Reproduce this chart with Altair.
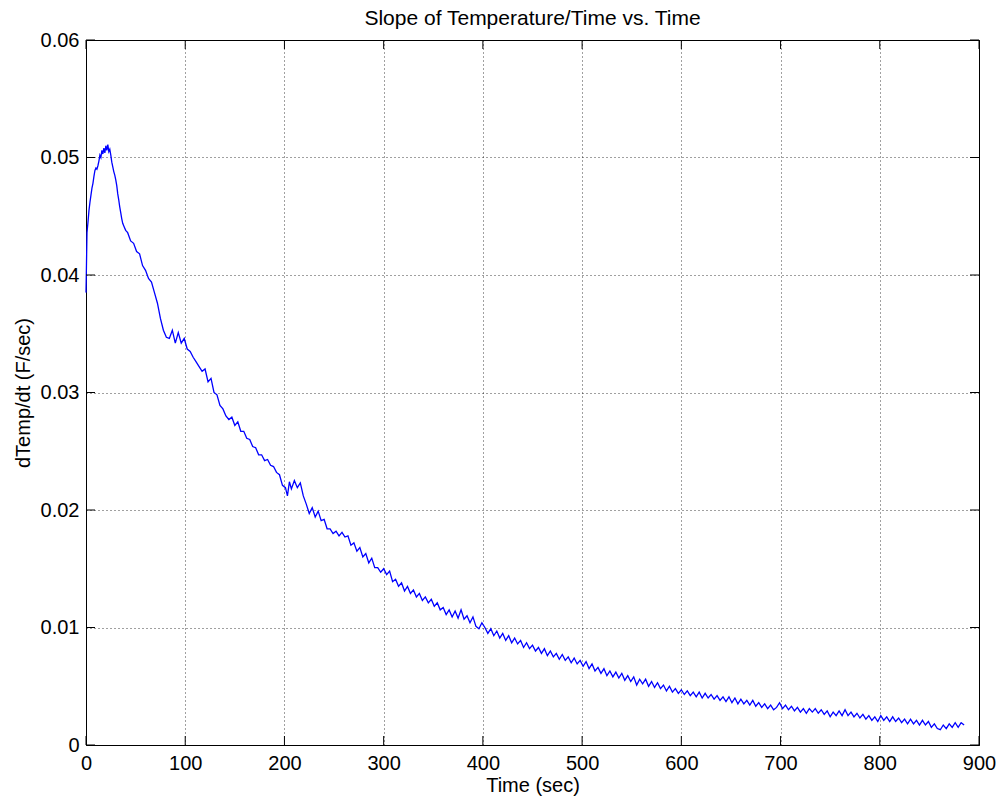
import altair as alt
import pandas as pd

# ---- data (time in sec, slope in F/sec) ----
SEG_RISE = [
    (0, 0.0385), (0.5, 0.0410), (1, 0.0436), (2, 0.0445), (3, 0.0455), (4, 0.0462),
    (5, 0.0468), (6, 0.0474), (7, 0.0478), (8, 0.0484), (9, 0.0489), (10, 0.0491),
    (11, 0.0490), (12, 0.0493), (13, 0.0497), (14, 0.0502), (15, 0.0500), (16, 0.0506),
    (17, 0.0503), (18, 0.0508), (19, 0.0504), (20, 0.0510), (21, 0.0506), (22, 0.0511),
    (23, 0.0505), (24, 0.0507), (25, 0.0502), (26, 0.0496), (27, 0.0492), (28, 0.0488),
    (29, 0.0485), (30, 0.0481), (31, 0.0476), (32, 0.0469), (33, 0.0464), (34, 0.0458),
    (35, 0.0453), (36, 0.0448), (37, 0.0444), (38, 0.0442), (40, 0.0438),
]
SEG_EARLY = [
    (42, 0.0436), (45, 0.0429), (48, 0.0427), (51, 0.0420), (54, 0.0418), (57, 0.0408),
    (60, 0.0404), (63, 0.0397), (66, 0.0394), (69, 0.0385), (72, 0.0376), (75, 0.0363),
    (78, 0.0353), (81, 0.0347), (84, 0.0346), (87, 0.0353), (90, 0.0342), (93, 0.0351),
    (96, 0.0342), (99, 0.0346), (102, 0.0337), (105, 0.0335), (108, 0.0330), (111, 0.0326),
    (114, 0.0322), (117, 0.0318), (120, 0.0320), (123, 0.0309), (126, 0.0312), (129, 0.0300),
    (132, 0.0298), (135, 0.0289), (138, 0.0286), (141, 0.0280), (144, 0.0277), (147, 0.0279),
    (150, 0.0272), (153, 0.0275), (156, 0.0267), (159, 0.0267), (162, 0.0261), (165, 0.0260),
    (168, 0.0254), (171, 0.0253), (174, 0.0247), (177, 0.0247), (180, 0.0242), (183, 0.0243),
    (186, 0.0238), (189, 0.0237), (192, 0.0232), (195, 0.0230), (198, 0.0221),
]
SEG_MID = [
    (201, 0.0219), (203, 0.0212), (205, 0.0224), (207, 0.0218), (210, 0.0225), (213, 0.0219),
    (216, 0.0223), (219, 0.0212), (222, 0.0205), (225, 0.0197), (228, 0.0202), (231, 0.0194),
    (234, 0.0199), (237, 0.0191), (240, 0.0192), (243, 0.0184), (246, 0.0184), (249, 0.0180),
    (252, 0.0182), (255, 0.0178), (258, 0.0181), (261, 0.0177), (264, 0.0178), (267, 0.0170),
    (270, 0.0172), (273, 0.0165), (276, 0.0168), (279, 0.0160), (282, 0.0163), (285, 0.0155),
    (288, 0.0159), (291, 0.0151), (294, 0.0151), (297, 0.0147), (300, 0.0150), (303, 0.0145),
    (306, 0.0148), (309, 0.0139), (312, 0.0141), (315, 0.0135), (318, 0.0138), (321, 0.0131),
    (324, 0.0135), (327, 0.0129), (330, 0.0132), (333, 0.0126), (336, 0.0129), (339, 0.0123),
    (342, 0.0126), (345, 0.0121), (348, 0.0124), (351, 0.0118), (354, 0.0121), (357, 0.0115),
    (360, 0.0117), (363, 0.0111), (366, 0.0115), (369, 0.0109), (372, 0.0114), (375, 0.0108),
    (378, 0.0115), (381, 0.0107), (384, 0.0110), (387, 0.0104), (390, 0.0109), (393, 0.0101),
    (396, 0.0099), (399, 0.0104),
]
SEG_LATE = [
    (402, 0.0100), (405, 0.0095), (408, 0.0099), (411, 0.0093), (414, 0.0097), (417, 0.0091),
    (420, 0.0095), (423, 0.0089), (426, 0.0093), (429, 0.0087), (432, 0.0091), (435, 0.0086),
    (438, 0.0089), (441, 0.0083), (444, 0.0087), (447, 0.0082), (450, 0.0085), (453, 0.0080),
    (456, 0.0083), (459, 0.0078), (462, 0.0082), (465, 0.0076), (468, 0.0080), (471, 0.0075),
    (474, 0.0078), (477, 0.0073), (480, 0.0077), (483, 0.0072), (486, 0.0075), (489, 0.0070),
    (492, 0.0074), (495, 0.0069), (498, 0.0072), (501, 0.0067), (504, 0.0071), (507, 0.0065),
    (510, 0.0069), (513, 0.0063), (516, 0.0066), (519, 0.0061), (522, 0.0065), (525, 0.0059),
    (528, 0.0063), (531, 0.0058), (534, 0.0062), (537, 0.0057), (540, 0.0061), (543, 0.0055),
    (546, 0.0059), (549, 0.0054), (552, 0.0058), (555, 0.0051), (558, 0.0056), (561, 0.0052),
    (564, 0.0056), (567, 0.0050), (570, 0.0054), (573, 0.0049), (576, 0.0053), (579, 0.0048),
    (582, 0.0051), (585, 0.0046), (588, 0.0050), (591, 0.0045), (594, 0.0048), (597, 0.0044),
    (600, 0.0047), (603, 0.0043), (606, 0.0046), (609, 0.0042), (612, 0.0045), (615, 0.0041),
    (618, 0.0045), (621, 0.0040), (624, 0.0044), (627, 0.0040), (630, 0.0043), (633, 0.0039),
    (636, 0.0042), (639, 0.0038), (642, 0.0041), (645, 0.0037), (648, 0.0041), (651, 0.0036),
    (654, 0.0040), (657, 0.0035), (660, 0.0039), (663, 0.0035), (666, 0.0038), (669, 0.0034),
    (672, 0.0038), (675, 0.0033), (678, 0.0036), (681, 0.0032), (684, 0.0035), (687, 0.0031),
    (690, 0.0034), (693, 0.0030), (696, 0.0032),
]
SEG_TAIL = [
    (699, 0.0036), (702, 0.0031), (705, 0.0034), (708, 0.0030), (711, 0.0033), (714, 0.0029),
    (717, 0.0032), (720, 0.0028), (723, 0.0031), (726, 0.0027), (729, 0.0031), (732, 0.0028),
    (735, 0.0031), (738, 0.0027), (741, 0.0030), (744, 0.0026), (747, 0.0029), (750, 0.0024),
    (753, 0.0028), (756, 0.0025), (759, 0.0029), (762, 0.0025), (765, 0.0030), (768, 0.0025),
    (771, 0.0028), (774, 0.0024), (777, 0.0027), (780, 0.0023), (783, 0.0026), (786, 0.0022),
    (789, 0.0025), (792, 0.0021), (795, 0.0024), (798, 0.0020), (801, 0.0025), (804, 0.0021),
    (807, 0.0024), (810, 0.0020), (813, 0.0024), (816, 0.0020), (819, 0.0023), (822, 0.0019),
    (825, 0.0022), (828, 0.0018), (831, 0.0022), (834, 0.0018), (837, 0.0021), (840, 0.0017),
    (843, 0.0021), (846, 0.0017), (849, 0.0020), (852, 0.0015), (855, 0.0018), (858, 0.0014),
    (861, 0.0013), (864, 0.0017), (867, 0.0014), (870, 0.0018), (873, 0.0015), (876, 0.0019),
    (879, 0.0015), (882, 0.0019), (885, 0.0017),
]

X_TICKS = [0, 100, 200, 300, 400, 500, 600, 700, 800, 900]
Y_TICKS = [0, 0.01, 0.02, 0.03, 0.04, 0.05, 0.06]

TITLE = "Slope of Temperature/Time vs. Time"
X_TITLE = "Time (sec)"
Y_TITLE = "dTemp/dt (F/sec)"

# ---- layout ----
W, H = 893, 705
TICK = 9
FONT = "Liberation Sans"
FS = 20

df = pd.DataFrame(SEG_RISE + SEG_EARLY + SEG_MID + SEG_LATE + SEG_TAIL, columns=["time", "slope"])
xt = pd.DataFrame({"time": X_TICKS})
yt = pd.DataFrame({"slope": Y_TICKS})

xs = alt.Scale(domain=[0, 900], nice=False, zero=False)
ys = alt.Scale(domain=[0, 0.06], nice=False, zero=False)

common_axis = dict(
    grid=True, gridDash=[1, 3], gridColor="#000000", gridOpacity=0.75, gridWidth=1,
    ticks=False, tickSize=0, domain=False,
    labelFont=FONT, labelFontSize=FS, labelColor="#000000",
    titleFont=FONT, titleFontSize=FS, titleColor="#000000", titleFontWeight="normal",
    labelFlush=False, labelOverlap=False, labelBound=False,
)
x_axis = alt.Axis(values=X_TICKS, format="d", title=X_TITLE, labelPadding=8,
                  titlePadding=2, **common_axis)
y_axis = alt.Axis(values=Y_TICKS, format=".2~f", title=Y_TITLE, labelPadding=7,
                  titlePadding=7, **common_axis)

line = alt.Chart(df).mark_line(color="#0000ff", strokeWidth=1.3).encode(
    x=alt.X("time:Q", scale=xs, axis=x_axis),
    y=alt.Y("slope:Q", scale=ys, axis=y_axis),
)

ytick_l = alt.Chart(yt).mark_rule(color="#000000").encode(
    y=alt.Y("slope:Q", scale=ys, axis=y_axis), x=alt.value(0), x2=alt.value(TICK))
ytick_r = alt.Chart(yt).mark_rule(color="#000000").encode(
    y=alt.Y("slope:Q", scale=ys, axis=y_axis), x=alt.value(W - TICK), x2=alt.value(W))
xtick_b = alt.Chart(xt).mark_rule(color="#000000").encode(
    x=alt.X("time:Q", scale=xs, axis=x_axis), y=alt.value(H - TICK), y2=alt.value(H))
xtick_t = alt.Chart(xt).mark_rule(color="#000000").encode(
    x=alt.X("time:Q", scale=xs, axis=x_axis), y=alt.value(0), y2=alt.value(TICK))

chart = alt.layer(line, ytick_l, ytick_r, xtick_b, xtick_t).properties(
    width=W, height=H,
    title=alt.TitleParams(TITLE, font=FONT, fontSize=21, fontWeight="normal",
                          color="#000000", anchor="middle", offset=1),
    autosize=alt.AutoSizeParams(type="none"),
    padding={"left": 86, "top": 40, "right": 21, "bottom": 55},
    background="white",
).configure_view(stroke="#000000", strokeWidth=1)

chart.save("out.html", embed_options={"renderer": "svg", "actions": False})
